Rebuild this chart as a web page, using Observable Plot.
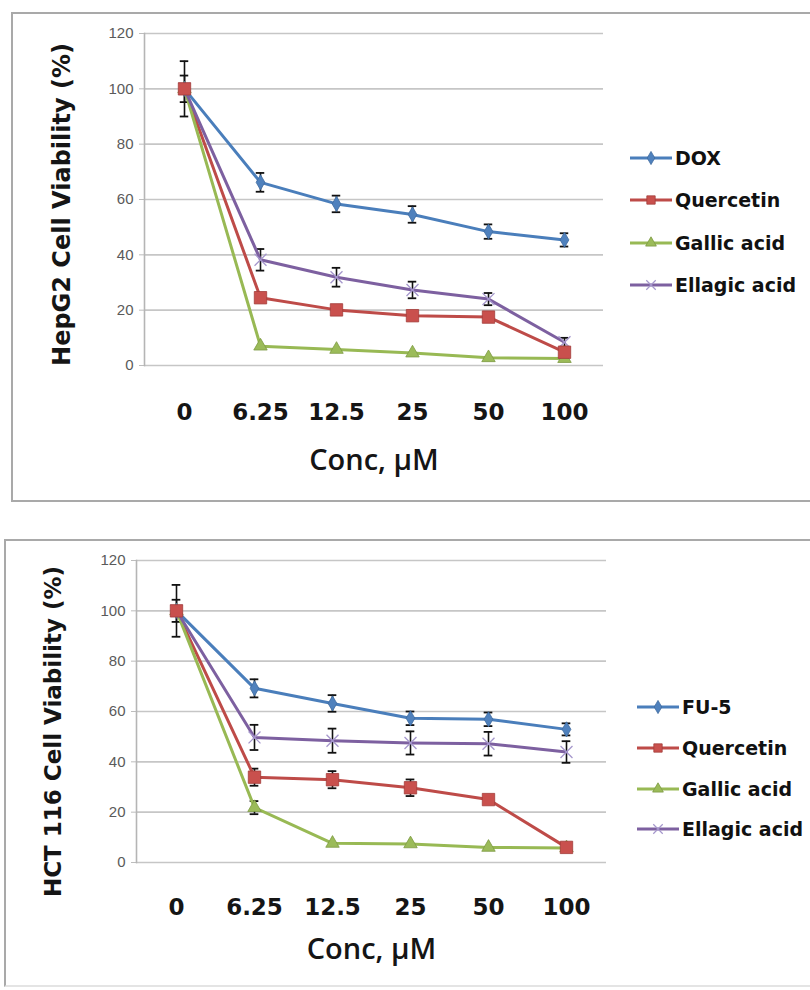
<!DOCTYPE html>
<html>
<head>
<meta charset="utf-8">
<script src="https://cdn.jsdelivr.net/npm/d3@7"></script>
<script src="https://cdn.jsdelivr.net/npm/@observablehq/plot@0.6"></script>
<style>
  html, body { margin: 0; padding: 0; background: #fff; }
  #page { position: relative; width: 810px; height: 990px; overflow: hidden; background: #fff; }
  .frame { position: absolute; box-sizing: border-box; pointer-events: none; z-index: 2; }
  .plotwrap { position: absolute; left: 0; z-index: 1; }
  .legend { position: absolute; z-index: 3; font-family: "DejaVu Sans", sans-serif; font-weight: bold; font-size: 19px; color: #111; }
  .legend .row { position: absolute; left: 0; display: flex; align-items: center; white-space: nowrap; }
  .legend svg { display: block; margin-right: 3px; }
</style>
</head>
<body>
<div id="page"></div>
<script>
// ---------- data ----------
const conc = ["0", "6.25", "12.5", "25", "50", "100"];
const yTicks = [0, 20, 40, 60, 80, 100, 120];

// HepG2 panel
const hepSeries = ["DOX", "Quercetin", "Gallic acid", "Ellagic acid"];
const hepDOX = [100, 66.2, 58.4, 54.6, 48.4, 45.4];
const hepDOXErr = [10, 3.4, 3.0, 3.0, 2.6, 2.4];
const hepQuercetin = [100, 24.5, 20.1, 18.0, 17.5, 4.8];
const hepQuercetinErr = [0, 0, 0, 0, 0, 0];
const hepGallic = [100, 7.0, 5.8, 4.5, 2.8, 2.5];
const hepGallicErr = [0, 0, 0, 0, 0, 0];
const hepEllagic = [100, 38.2, 31.9, 27.3, 24.0, 8.4];
const hepEllagicErr = [4.8, 3.9, 3.4, 3.0, 2.2, 1.6];

// HCT 116 panel
const hctSeries = ["FU-5", "Quercetin", "Gallic acid", "Ellagic acid"];
const hctFU5 = [100, 69.2, 63.2, 57.3, 56.9, 52.9];
const hctFU5Err = [10.3, 3.6, 3.3, 2.7, 2.7, 2.4];
const hctQuercetin = [100, 33.9, 32.9, 29.7, 25.0, 6.0];
const hctQuercetinErr = [0, 3.4, 3.4, 3.3, 0, 0];
const hctGallic = [100, 21.8, 7.6, 7.4, 6.0, 5.8];
const hctGallicErr = [0, 2.6, 0, 0, 0, 0];
const hctEllagic = [100, 49.7, 48.4, 47.5, 47.2, 43.9];
const hctEllagicErr = [4.4, 5.0, 4.8, 4.6, 4.7, 4.3];

// ---------- styles ----------
const seriesStyle = [
  {line: "#4a7ebb", fill: "#4f81bd", stroke: "#3d6a9e", symbol: "diamond", r: 4.6},
  {line: "#be4b48", fill: "#c9504d", stroke: "#a33e3b", symbol: "square", r: 7},
  {line: "#98b954", fill: "#9bbb59", stroke: "#7d9a44", symbol: "triangle", r: 5},
  {line: "#7d60a0", fill: "none", stroke: "#a597cc", symbol: "times", r: 5.5}
];

function rowsFor(names, values, errs) {
  const rows = [];
  names.forEach((name, i) => {
    values[i].forEach((v, j) => rows.push({series: name, idx: i, conc: conc[j], value: v, err: errs[i][j]}));
  });
  return rows;
}

const page = document.getElementById("page");

function panel(cfg) {
  const rows = rowsFor(cfg.names, cfg.values, cfg.errs);
  const bw = (810 - cfg.ml - cfg.mr) / conc.length;
  const capInset = (bw - 9) / 2;
  const errRows = rows.filter(d => d.err > 0);
  const marks = [
    Plot.gridY(yTicks, {stroke: "#c6c6c6", strokeOpacity: 1, strokeWidth: 1.6}),
    Plot.axisY(yTicks, {tickSize: 5, tickPadding: 6, stroke: "#bdbdbd", fill: "#5a5a5a",
      fontSize: 15, fontFamily: "Liberation Sans, Arial, sans-serif", label: null}),
    Plot.frame({anchor: "left", stroke: "#b5b5b5", strokeWidth: 1.6}),
    Plot.axisX(conc, {tickSize: 0, tickPadding: cfg.tickPad, fontSize: 23, fontWeight: "bold",
      fontFamily: "DejaVu Sans, sans-serif", fill: "#151515", label: null}),
    Plot.text([cfg.xlabel], {text: d => d, frameAnchor: "bottom", dy: cfg.xlabDy, fontSize: 29,
      fontWeight: 600, fontFamily: "Open Sans, sans-serif", fill: "#151515"}),
    Plot.text([cfg.ylabel], {text: d => d, frameAnchor: "left", textAnchor: "middle", lineAnchor: "middle",
      rotate: -90, dx: cfg.ylabDx, dy: cfg.ylabDy,
      fontSize: cfg.ylabSize, fontWeight: "bold", fontFamily: "DejaVu Sans, sans-serif", fill: "#151515"}),
    // error bars
    Plot.ruleX(errRows, {x: "conc", y1: d => d.value - d.err, y2: d => d.value + d.err, stroke: "#111", strokeWidth: 1.6}),
    Plot.tickY(errRows, {x: "conc", y: d => d.value + d.err, stroke: "#111", strokeWidth: 1.8, insetLeft: capInset, insetRight: capInset}),
    Plot.tickY(errRows, {x: "conc", y: d => d.value - d.err, stroke: "#111", strokeWidth: 1.8, insetLeft: capInset, insetRight: capInset})
  ];
  cfg.names.forEach((name, i) => {
    const st = seriesStyle[i];
    marks.push(Plot.line(rows.filter(d => d.idx === i), {x: "conc", y: "value", stroke: st.line, strokeWidth: 3}));
  });
  [2, 3, 0, 1].forEach(i => {
    const st = seriesStyle[i];
    const data = rows.filter(d => d.idx === i);
    if (st.symbol === "times") {
      marks.push(Plot.dot(data, {x: "conc", y: "value", symbol: () => "times", r: st.r, stroke: st.stroke, strokeWidth: 1.3, fill: "none"}));
    } else {
      marks.push(Plot.dot(data, {x: "conc", y: "value", symbol: () => st.symbol, r: st.r, fill: st.fill, stroke: st.stroke, strokeWidth: 0.8}));
    }
  });
  const svg = Plot.plot({
    width: 810, height: cfg.height,
    marginTop: cfg.mt, marginBottom: cfg.mb, marginLeft: cfg.ml, marginRight: cfg.mr,
    style: {background: "transparent", overflow: "visible"},
    x: {type: "band", domain: conc, padding: 0, axis: null},
    y: {domain: [0, 120], axis: null},
    symbol: {type: "identity"},
    marks
  });
  const wrap = document.createElement("div");
  wrap.className = "plotwrap";
  wrap.style.top = cfg.top + "px";
  wrap.appendChild(svg);
  page.appendChild(wrap);

  // legend
  const leg = document.createElement("div");
  leg.className = "legend";
  leg.style.left = cfg.legX + "px";
  leg.style.top = "0px";
  cfg.names.forEach((name, i) => {
    const st = seriesStyle[i];
    const row = document.createElement("div");
    row.className = "row";
    row.style.top = (cfg.legY[i] - 12) + "px";
    const s = d3.create("svg").attr("width", 42).attr("height", 24);
    s.append("line").attr("x1", 0).attr("x2", 42).attr("y1", 12).attr("y2", 12)
      .attr("stroke", st.line).attr("stroke-width", 3);
    const symType = {diamond: d3.symbolDiamond, square: d3.symbolSquare, triangle: d3.symbolTriangle, times: d3.symbolTimes}[st.symbol];
    const size = st.symbol === "square" ? 70 : (st.symbol === "times" ? 60 : 50);
    s.append("path").attr("d", d3.symbol(symType, size)()).attr("transform", "translate(21,12)")
      .attr("fill", st.symbol === "times" ? "none" : st.fill)
      .attr("stroke", st.stroke).attr("stroke-width", st.symbol === "times" ? 1.2 : 0.8);
    row.appendChild(s.node());
    const t = document.createElement("span");
    t.textContent = name;
    row.appendChild(t);
    leg.appendChild(row);
  });
  page.appendChild(leg);

  // frame border
  const fr = document.createElement("div");
  fr.className = "frame";
  Object.assign(fr.style, cfg.frame);
  page.appendChild(fr);
}

panel({
  top: 0, height: 500, mt: 33, mb: 135, ml: 144, mr: 207,
  names: hepSeries,
  values: [hepDOX, hepQuercetin, hepGallic, hepEllagic],
  errs: [hepDOXErr, hepQuercetinErr, hepGallicErr, hepEllagicErr],
  xlabel: "Conc, µM", ylabel: "HepG2 Cell Viability (%)",
  tickPad: 38, xlabDy: 104, ylabDx: -82, ylabDy: 5, ylabSize: 24,
  legX: 630, legY: [158, 200, 243, 285],
  frame: {left: "11px", top: "12px", width: "820px", height: "490px", border: "2px solid #a9a9a9"}
});

panel({
  top: 500, height: 490, mt: 60, mb: 128, ml: 136, mr: 204,
  names: hctSeries,
  values: [hctFU5, hctQuercetin, hctGallic, hctEllagic],
  errs: [hctFU5Err, hctQuercetinErr, hctGallicErr, hctEllagicErr],
  xlabel: "Conc, µM", ylabel: "HCT 116 Cell Viability (%)",
  tickPad: 36, xlabDy: 96, ylabDx: -83, ylabDy: 20, ylabSize: 23,
  legX: 637, legY: [707, 748, 789, 829],
  frame: {left: "4px", top: "539px", width: "830px", height: "448px", border: "2px solid #a9a9a9", borderBottomColor: "#e4e4e4"}
});
</script>
</body>
</html>
